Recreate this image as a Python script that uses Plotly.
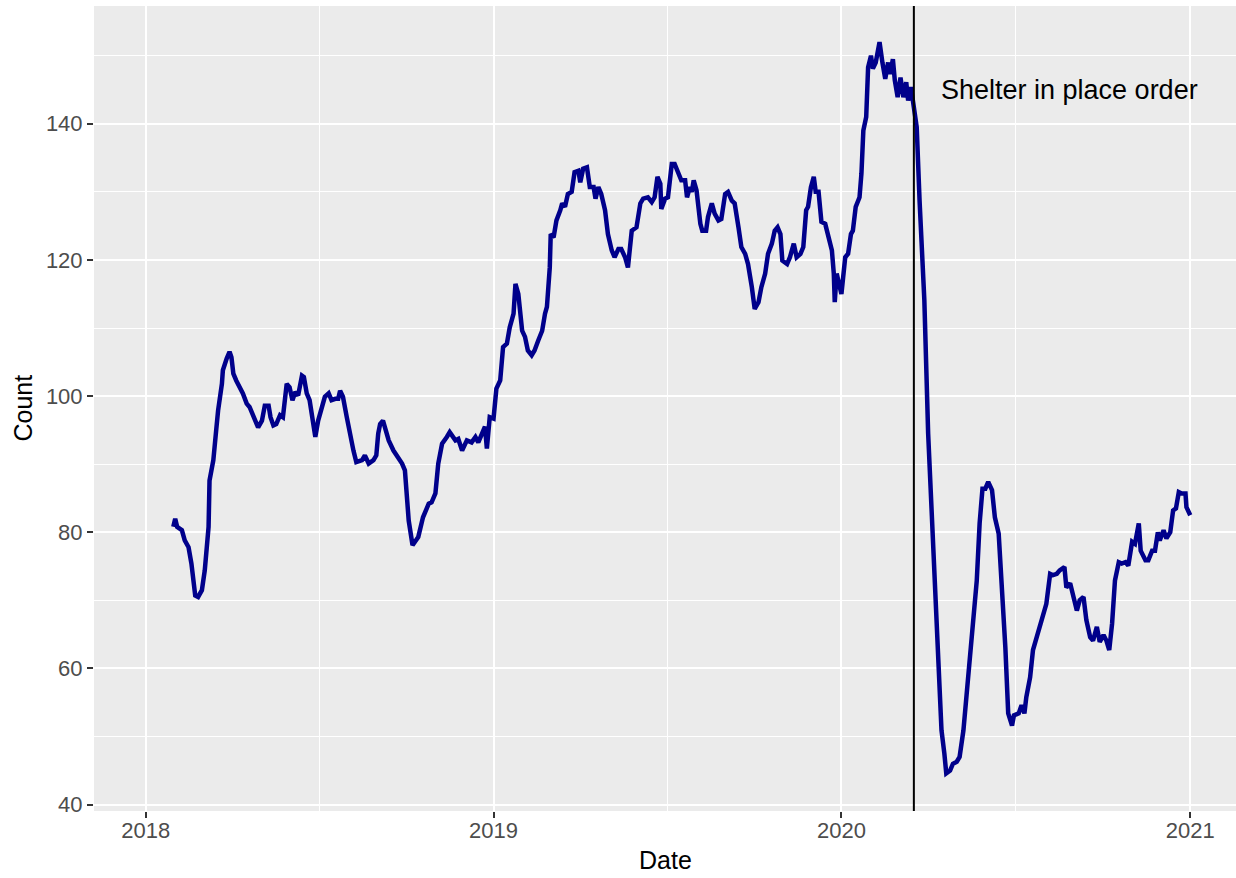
import pandas as pd
import plotly.graph_objects as go

# Rolling daily count, sampled along the series (days counted from 2018-01-01)
days_since_2018 = [
    29, 31, 33, 38, 41, 45, 48, 50, 52, 55, 59, 62, 66, 67, 71, 74, 76, 80, 81, 85,
    88, 90, 92, 95, 99, 102, 106, 109, 115, 118, 122, 125, 129, 131, 134, 137, 141, 144, 148, 151,
    154, 157, 160, 164, 166, 169, 172, 176, 178, 181, 185, 188, 192, 195, 199, 202, 204, 207, 211, 214,
    218, 221, 227, 230, 234, 239, 242, 244, 246, 249, 253, 255, 260, 265, 269, 272, 274, 276, 280, 284,
    286, 291, 297, 300, 304, 307, 311, 316, 319, 325, 328, 332, 337, 342, 346, 349, 353, 356, 358, 361,
    365, 368, 372, 375, 379, 382, 386, 388, 391, 395, 398, 401, 405, 408, 412, 416, 419, 421, 424, 425,
    428, 431, 435, 437, 440, 443, 447, 450, 454, 456, 459, 463, 466, 470, 472, 475, 478, 482, 485, 489,
    492, 496, 499, 503, 506, 510, 515, 519, 522, 527, 531, 534, 537, 540, 541, 545, 548, 552, 555, 559,
    562, 566, 568, 571, 573, 575, 578, 582, 584, 588, 590, 594, 597, 601, 604, 608, 611, 615, 618, 622,
    625, 629, 632, 636, 639, 643, 646, 650, 653, 657, 660, 663, 666, 668, 673, 676, 680, 683, 687, 690,
    693, 695, 698, 701, 703, 706, 709, 713, 716, 720, 722, 723, 725, 728, 730, 734, 737, 740, 742, 745,
    749, 751, 753, 756, 758, 761, 763, 766, 770, 773, 776, 779, 781, 784, 786, 789, 792, 795, 798, 800,
    803, 805, 809, 812, 817, 821, 825, 828, 832, 835, 838, 840, 844, 847, 851, 854, 858, 861, 865, 868,
    872, 875, 878, 881, 884, 888, 891, 895, 898, 902, 905, 909, 911, 916, 919, 922, 924, 928, 931, 935,
    937, 940, 945, 949, 952, 956, 959, 964, 966, 970, 973, 977, 980, 984, 987, 991, 994, 998, 1001, 1005,
    1008, 1011, 1014, 1017, 1021, 1024, 1028, 1031, 1035, 1038, 1042, 1044, 1049, 1052, 1056, 1059, 1062, 1064, 1068, 1071,
    1075, 1078, 1081, 1084, 1087, 1091, 1092, 1096,
]
counts = [
    80.8, 82.0, 80.8, 80.3, 78.8, 77.8, 75.4, 72.5, 70.7, 70.5, 71.5, 74.4, 80.8, 87.6, 90.6, 95.0, 97.9, 101.8, 103.8, 105.5,
    106.5, 105.7, 103.3, 102.3, 101.3, 100.4, 98.9, 98.4, 96.4, 95.4, 96.4, 98.6, 98.6, 96.9, 95.7, 95.9, 97.2, 96.9, 101.8, 101.3,
    99.4, 100.6, 100.1, 103.0, 102.8, 100.4, 99.4, 96.4, 94.0, 96.4, 98.4, 99.9, 100.4, 99.4, 99.6, 99.6, 100.8, 99.9, 96.9, 94.5,
    92.0, 90.3, 90.6, 91.3, 90.1, 90.6, 91.3, 94.5, 95.9, 96.4, 94.5, 93.5, 92.0, 91.0, 90.1, 89.1, 85.2, 81.7, 78.1, 78.8,
    79.3, 82.2, 84.2, 84.4, 85.7, 90.1, 93.0, 94.0, 94.7, 93.5, 93.7, 92.0, 93.5, 93.2, 94.0, 93.2, 94.7, 95.5, 92.3, 96.9,
    96.7, 101.1, 102.3, 107.2, 107.7, 110.1, 112.1, 116.5, 115.0, 109.6, 108.7, 106.7, 106.0, 106.7, 108.2, 109.6, 112.1, 113.1, 118.9, 123.8,
    123.3, 125.8, 127.3, 128.3, 127.8, 129.7, 130.0, 132.9, 133.1, 131.4, 133.4, 133.6, 130.7, 130.7, 129.0, 130.7, 129.7, 127.3, 123.8, 121.4,
    120.4, 121.6, 121.6, 120.4, 118.9, 124.3, 124.8, 128.3, 129.0, 129.2, 128.5, 129.2, 132.2, 131.2, 127.5, 129.0, 129.2, 134.1, 134.1, 132.7,
    131.7, 131.7, 129.2, 130.7, 130.0, 131.7, 130.2, 125.3, 124.3, 124.3, 126.3, 128.3, 126.8, 125.8, 126.0, 129.7, 130.0, 128.7, 128.3, 124.8,
    121.9, 120.9, 119.4, 116.0, 112.8, 113.8, 116.0, 118.0, 120.9, 122.4, 124.3, 124.8, 123.8, 119.9, 119.4, 120.4, 122.4, 120.4, 120.9, 121.9,
    127.3, 127.8, 130.7, 132.2, 130.0, 130.0, 125.6, 125.3, 123.8, 121.4, 118.0, 113.8, 118.0, 116.5, 115.0, 120.4, 120.9, 123.8, 124.3, 127.8,
    129.2, 132.7, 139.0, 141.0, 148.3, 150.0, 148.1, 149.0, 152.0, 149.0, 146.6, 149.0, 147.3, 149.5, 146.4, 143.9, 146.8, 143.9, 146.1, 143.4,
    145.4, 143.4, 139.5, 128.7, 114.1, 94.5, 82.7, 72.9, 60.7, 50.9, 47.5, 44.6, 45.0, 46.0, 46.3, 47.0, 50.9, 55.8, 60.7, 66.6,
    72.9, 81.3, 86.4, 86.4, 87.4, 86.2, 82.2, 79.8, 72.9, 63.1, 53.4, 51.6, 53.1, 53.4, 54.6, 53.4, 55.8, 58.7, 62.7, 64.6,
    66.1, 67.3, 69.5, 73.9, 73.7, 73.9, 74.4, 74.9, 71.9, 72.5, 70.5, 68.5, 70.0, 70.5, 67.1, 64.6, 64.1, 66.1, 63.9, 64.9,
    64.1, 62.7, 66.6, 72.9, 75.6, 75.4, 75.6, 75.1, 78.6, 78.3, 81.3, 77.3, 75.9, 75.9, 77.3, 77.3, 80.0, 78.8, 80.3, 79.1,
    80.0, 83.2, 83.5, 85.9, 85.7, 85.7, 83.7, 82.5,
]

year_ticks = ["2018-01-01", "2019-01-01", "2020-01-01", "2021-01-01"]
year_labels = ["2018", "2019", "2020", "2021"]
mid_year_ticks = ["2018-07-02 12:00", "2019-07-02 12:00", "2020-07-02"]
count_ticks = [40, 60, 80, 100, 120, 140]
count_minor = [50, 70, 90, 110, 130, 150]

shelter_date = "2020-03-17"
shelter_label = "Shelter in place order"
label_date = "2020-04-12"
label_count = 144.9

dates = pd.Timestamp("2018-01-01") + pd.to_timedelta(days_since_2018, unit="D")

FONT = "Liberation Sans, Arial, Helvetica, sans-serif"
PANEL = "#EBEBEB"

fig = go.Figure()
fig.add_trace(go.Scatter(
    x=dates, y=counts, mode="lines",
    line=dict(color="#00008B", width=4.5),
    showlegend=False,
))

fig.add_vline(x=shelter_date, line=dict(color="black", width=2))
fig.add_annotation(
    x=label_date, y=label_count, text=shelter_label, showarrow=False,
    xanchor="left", yanchor="middle",
    font=dict(family=FONT, size=27, color="black"),
)

# axis titles
fig.add_annotation(
    xref="paper", yref="paper", x=0.5, y=-0.061, text="Date", showarrow=False,
    xanchor="center", yanchor="middle", font=dict(family=FONT, size=25, color="black"),
)
fig.add_annotation(
    xref="paper", yref="paper", x=-0.063, y=0.5, text="Count", showarrow=False,
    textangle=-90, xanchor="center", yanchor="middle",
    font=dict(family=FONT, size=25, color="black"),
)

fig.update_layout(
    width=1236, height=878,
    margin=dict(l=94, r=0, t=6, b=67),
    paper_bgcolor="white", plot_bgcolor=PANEL,
    font=dict(family=FONT),
    xaxis=dict(
        type="date",
        range=["2017-11-07 19:00", "2021-02-18"],
        tickmode="array", tickvals=year_ticks, ticktext=year_labels,
        ticks="outside", ticklen=6, tickwidth=2, tickcolor="#333333",
        ticklabelstandoff=-6,
        tickfont=dict(family=FONT, size=22, color="#4D4D4D"),
        showgrid=True, gridcolor="white", gridwidth=2.2,
        minor=dict(tickmode="array", tickvals=mid_year_ticks,
                   showgrid=True, gridcolor="white", gridwidth=1.1, ticks=""),
        zeroline=False, showline=False,
    ),
    yaxis=dict(
        range=[39.06, 157.3],
        tickmode="array", tickvals=count_ticks,
        ticks="outside", ticklen=6, tickwidth=2, tickcolor="#333333",
        tickfont=dict(family=FONT, size=22, color="#4D4D4D"),
        showgrid=True, gridcolor="white", gridwidth=2.2,
        minor=dict(tickmode="array", tickvals=count_minor,
                   showgrid=True, gridcolor="white", gridwidth=1.1, ticks=""),
        zeroline=False, showline=False,
    ),
)

fig.write_html("out.html")
